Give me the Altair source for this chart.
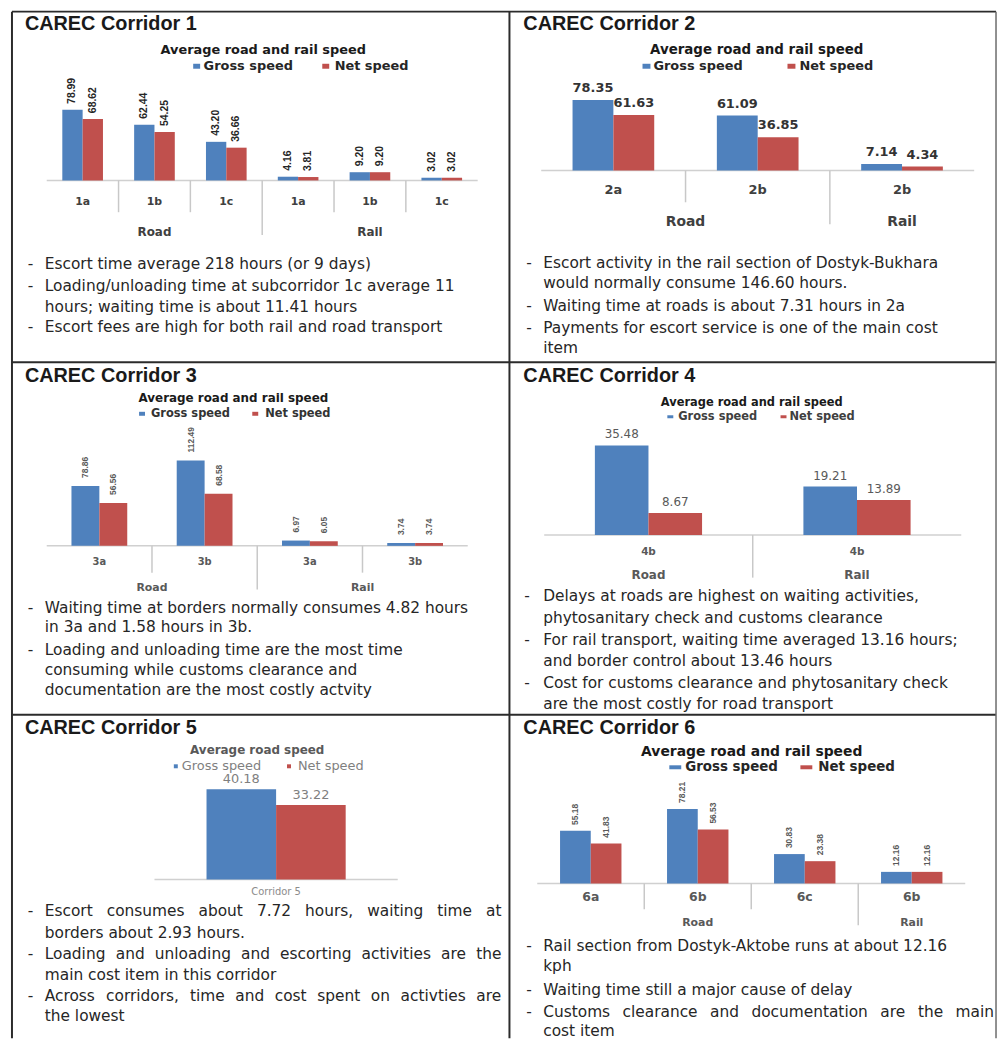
import altair as alt
import pandas as pd

# ---------------- data ----------------
panel_titles = ["CAREC Corridor 1", "CAREC Corridor 2", "CAREC Corridor 3",
                "CAREC Corridor 4", "CAREC Corridor 5", "CAREC Corridor 6"]
chart_titles = ["Average road and rail speed", "Average road and rail speed",
                "Average road and rail speed", "Average road and rail speed",
                "Average road speed", "Average road and rail speed"]
series_names = ["Gross speed", "Net speed"]

c1_sub = ["1a", "1b", "1c", "1a", "1b", "1c"]
c1_mode = ["Road", "Road", "Road", "Rail", "Rail", "Rail"]
c1_gross = [78.99, 62.44, 43.20, 4.16, 9.20, 3.02]
c1_net = [68.62, 54.25, 36.66, 3.81, 9.20, 3.02]

c2_sub = ["2a", "2b", "2b"]
c2_mode = ["Road", "Road", "Rail"]
c2_gross = [78.35, 61.09, 7.14]
c2_net = [61.63, 36.85, 4.34]

c3_sub = ["3a", "3b", "3a", "3b"]
c3_mode = ["Road", "Road", "Rail", "Rail"]
c3_gross = [78.86, 112.49, 6.97, 3.74]
c3_net = [56.56, 68.58, 6.05, 3.74]

c4_sub = ["4b", "4b"]
c4_mode = ["Road", "Rail"]
c4_gross = [35.48, 19.21]
c4_net = [8.67, 13.89]

c5_sub = ["Corridor 5"]
c5_mode = [""]
c5_gross = [40.18]
c5_net = [33.22]

c6_sub = ["6a", "6b", "6c", "6b"]
c6_mode = ["Road", "Road", "Road", "Rail"]
c6_gross = [55.18, 78.21, 30.83, 12.16]
c6_net = [41.83, 56.53, 23.38, 12.16]

c1_notes = [["Escort time average 218 hours (or 9 days)"],
            ["Loading/unloading time at subcorridor 1c average 11",
             "hours; waiting time is about 11.41 hours"],
            ["Escort fees are high for both rail and road transport"]]
c2_notes = [["Escort activity in the rail section of Dostyk-Bukhara",
             "would normally consume 146.60 hours."],
            ["Waiting time at roads is about 7.31 hours in 2a"],
            ["Payments for escort service is one of the main cost", "item"]]
c3_notes = [["Waiting time at borders normally consumes 4.82 hours",
             "in 3a and 1.58 hours in 3b."],
            ["Loading and unloading time are the most time",
             "consuming while customs clearance and",
             "documentation are the most costly actvity"]]
c4_notes = [["Delays at roads are highest on waiting activities,",
             "phytosanitary check and customs clearance"],
            ["For rail transport, waiting time averaged 13.16 hours;",
             "and border control about 13.46 hours"],
            ["Cost for customs clearance and phytosanitary check",
             "are the most costly for road transport"]]
c5_notes = [["Escort consumes about 7.72 hours, waiting time at",
             "borders about 2.93 hours."],
            ["Loading and unloading and escorting activities are the",
             "main cost item in this corridor"],
            ["Across corridors, time and cost spent on activties are",
             "the lowest"]]
c6_notes = [["Rail section from Dostyk-Aktobe runs at about 12.16", "kph"],
            ["Waiting time still a major cause of delay"],
            ["Customs clearance and documentation are the main",
             "cost item"]]

# ---------------- style / layout ----------------
FT = "Liberation Sans, Arial, sans-serif"
FC = "DejaVu Sans, Verdana, sans-serif"
BLUE, RED = "#4F81BD", "#C0504D"
OX = OY = 8
W, H = 997, 1034

_w = {" ": 318, ",": 318, ".": 318, "-": 361, "/": 337, ":": 337, ";": 337, "(": 390, ")": 390}
for ch in "0123456789":
    _w[ch] = 636
_up = dict(zip("ABCDEFGHIJKLMNOPQRSTUVWXYZ",
               [684, 686, 698, 770, 632, 575, 775, 752, 295, 295, 656, 557, 863, 748, 787, 603,
                787, 695, 635, 611, 732, 684, 989, 685, 611, 685]))
_lo = dict(zip("abcdefghijklmnopqrstuvwxyz",
               [613, 635, 550, 635, 615, 352, 635, 634, 278, 278, 579, 278, 974, 634, 612, 635,
                635, 411, 521, 392, 634, 592, 818, 592, 592, 525]))
_w.update(_up)
_w.update(_lo)


def tw(s, size):
    return sum(_w.get(ch, 620) for ch in s) / 1000.0 * size


ann = {}


def T(x, y, t, font=FC, size=12, weight="normal", color="#262626", align="left", baseline="middle"):
    ann.setdefault((font, size, weight, color, align, baseline), []).append(
        {"x": x - OX, "y": y - OY, "t": t})


rects = []


def R(x, y, w, h, color):
    rects.append({"x": x - w / 2 - OX, "x2": x + w / 2 - OX,
                  "y": y - h / 2 - OY, "y2": y + h / 2 - OY, "c": color})


NOTE_SIZE = 15.5
NOTE_COLOR = "#262626"

layouts = [
    dict(x0=47, x1=481, base=178, k=0.9, bw=0.283, title=(25, 26), ct=(265, 47, 13, "#1a1a1a"),
         leg=dict(y=63, gm=198, gt=205, nm=328, nt=337, size=13, weight="bold", mw=7, mh=5, color="#262626"),
         lab=dict(rot=True, font=FT, size=10.5, weight="bold", gap=6, color="#262626"),
         cat=dict(y=200, size=11, weight="bold", color="#404040"),
         grp=dict(y=230, size=12, weight="bold", color="#404040"),
         sep=(210, 233), notes=dict(dash=28, text=45, ys=[262, 284, 305, 326], just={})),
    dict(x0=545, x1=981, base=168, k=0.906, bw=0.283, title=(527, 27), ct=(762, 47, 13.5, "#1a1a1a"),
         leg=dict(y=63, gm=651, gt=658, nm=797, nt=805, size=13, weight="bold", mw=8, mh=5, color="#262626"),
         lab=dict(rot=False, font=FC, size=13, weight="bold", gap=5, color="#333333"),
         cat=dict(y=188, size=13, weight="bold", color="#404040"),
         grp=dict(y=220, size=14, weight="bold", color="#404040"),
         sep=(200, 222), notes=dict(dash=530, text=547, ys=[261, 281, 304, 327, 347], just={})),
    dict(x0=47, x1=471, base=546, k=0.765, bw=0.265, title=(25, 381), ct=(235, 397, 12, "#1a1a1a"),
         leg=dict(y=413, gm=143, gt=152, nm=257, nt=267, size=11.5, weight="bold", mw=6, mh=4, color="#333333"),
         lab=dict(rot=True, font=FT, size=8.5, weight="bold", gap=8, color="#595959"),
         cat=dict(y=562, size=10, weight="bold", color="#595959"),
         grp=dict(y=588, size=11, weight="bold", color="#595959"),
         sep=(573, 590), notes=dict(dash=28, text=45, ys=[609, 628, 651, 671, 691], just={})),
    dict(x0=548, x1=968, base=535, k=2.54, bw=0.257, title=(527, 381), ct=(757, 402, 11.5, "#1a1a1a"),
         leg=dict(y=416, gm=675, gt=683, nm=789, nt=795, size=11.5, weight="bold", mw=6, mh=3, color="#404040"),
         lab=dict(rot=False, font=FC, size=12, weight="normal", gap=4, color="#595959"),
         cat=dict(y=552, size=10.5, weight="bold", color="#595959"),
         grp=dict(y=575, size=12, weight="bold", color="#595959"),
         sep=(578, 578), notes=dict(dash=528, text=547, ys=[597, 619, 641, 662, 684, 705], just={})),
    dict(x0=155.5, x1=400.5, base=882, k=2.26, bw=0.286, title=(25, 735), ct=(259, 752, 12, "#595959"),
         leg=dict(y=768, gm=177, gt=183, nm=291, nt=300, size=13, weight="normal", mw=4, mh=4, color="#7f7f7f"),
         lab=dict(rot=False, font=FC, size=13, weight="normal", gap=3, color="#7f7f7f"),
         cat=dict(y=895, size=10, weight="normal", color="#8c8c8c"),
         grp=None, sep=(0, 0),
         notes=dict(dash=28, text=45, ys=[914, 936, 957, 978, 999, 1020], just={0: 505, 2: 505, 4: 505})),
    dict(x0=541, x1=972, base=886, k=0.96, bw=0.287, title=(527, 735), ct=(757, 754, 14, "#1a1a1a"),
         leg=dict(y=769, gm=680, gt=690, nm=812, nt=824, size=13.5, weight="bold", mw=12, mh=4, color="#262626"),
         lab=dict(rot=True, font=FT, size=8.5, weight="bold", gap=6, color="#595959"),
         cat=dict(y=900, size=12.5, weight="bold", color="#595959"),
         grp=dict(y=926, size=11, weight="bold", color="#595959"),
         sep=(912, 928), notes=dict(dash=530, text=547, ys=[949, 969, 993, 1015, 1035], just={3: 1001})),
]


def panel(L, subs, modes, gross, net, title, ctitle, notes):
    n = len(subs)
    df = pd.DataFrame({"idx": list(range(n)) * 2,
                       "series": [series_names[0]] * n + [series_names[1]] * n,
                       "value": list(gross) + list(net)})
    bw = L["bw"]
    xs = alt.Scale(domain=[-0.5, n - 0.5], range=[L["x0"] - OX, L["x1"] - OX], nice=False, zero=False)
    ys = alt.Scale(domain=[0, 100], range=[L["base"] - OY, L["base"] - 100 * L["k"] - OY],
                   nice=False, zero=False)

    def X(f):
        return alt.X(f, scale=xs, axis=None)

    def Y(f):
        return alt.Y(f, scale=ys, axis=None)

    g = series_names[0]
    base = alt.Chart(df).transform_calculate(
        xa=f"datum.idx + (datum.series == '{g}' ? {-bw} : 0)",
        xb=f"datum.idx + (datum.series == '{g}' ? 0 : {bw})",
        xc=f"datum.idx + (datum.series == '{g}' ? {-bw / 2} : {bw / 2})",
        zero="0",
        lab="format(datum.value, '.2f')")
    layers = []
    axis_df = pd.DataFrame({"a": [-0.5], "b": [n - 0.5], "zero": [0]})
    layers.append(alt.Chart(axis_df).mark_rule(color="#d0d0d0", strokeWidth=1.5).encode(
        x=X("a:Q"), x2="b:Q", y=Y("zero:Q")))
    layers.append(base.mark_rect().encode(
        x=X("xa:Q"), x2="xb:Q", y=Y("value:Q"), y2="zero:Q",
        color=alt.Color("series:N", scale=alt.Scale(domain=series_names, range=[BLUE, RED]), legend=None)))
    lb = L["lab"]
    if lb["rot"]:
        lab_mark = base.mark_text(angle=270, align="left", baseline="middle", dx=lb["gap"],
                                  font=lb["font"], fontSize=lb["size"], fontWeight=lb["weight"],
                                  color=lb["color"])
    else:
        lab_mark = base.mark_text(align="center", baseline="bottom", dy=-lb["gap"],
                                  font=lb["font"], fontSize=lb["size"], fontWeight=lb["weight"],
                                  color=lb["color"])
    layers.append(lab_mark.encode(x=X("xc:Q"), y=Y("value:Q"), text="lab:N"))

    # separators between sub-corridors
    seps = [{"b": i + 0.5, "long": modes[i] != modes[i + 1]} for i in range(n - 1)]
    for is_long in (False, True):
        rows = [s for s in seps if s["long"] == is_long]
        if rows:
            yb = L["sep"][1 if is_long else 0]
            layers.append(alt.Chart(pd.DataFrame(rows)).mark_rule(color="#c8c8c8", strokeWidth=1.5).encode(
                x=X("b:Q"), y=alt.value(L["base"] - OY), y2=alt.value(yb - OY)))

    c = L["cat"]
    layers.append(alt.Chart(pd.DataFrame({"idx": list(range(n)), "sub": subs})).mark_text(
        font=FC, fontSize=c["size"], fontWeight=c["weight"], color=c["color"],
        align="center", baseline="middle").encode(
        x=X("idx:Q"), y=alt.value(c["y"] - OY), text="sub:N"))

    gp = L["grp"]
    if gp is not None:
        order = []
        for m in modes:
            if m not in order:
                order.append(m)
        grows = [{"mode": m, "pos": sum(i for i in range(n) if modes[i] == m) / modes.count(m)}
                 for m in order]
        layers.append(alt.Chart(pd.DataFrame(grows)).mark_text(
            font=FC, fontSize=gp["size"], fontWeight=gp["weight"], color=gp["color"],
            align="center", baseline="middle").encode(
            x=X("pos:Q"), y=alt.value(gp["y"] - OY), text="mode:N"))

    # texts
    T(L["title"][0], L["title"][1], title, font=FT, size=20, weight="bold", color="#1a1a1a",
      baseline="alphabetic")
    cx, cy, cs, cc = L["ct"]
    T(cx, cy, ctitle, size=cs, weight="bold", color=cc, align="center")
    lg = L["leg"]
    R(lg["gm"], lg["y"], lg["mw"], lg["mh"], BLUE)
    R(lg["nm"], lg["y"], lg["mw"], lg["mh"], RED)
    T(lg["gt"], lg["y"], series_names[0], size=lg["size"], weight=lg["weight"], color=lg["color"])
    T(lg["nt"], lg["y"], series_names[1], size=lg["size"], weight=lg["weight"], color=lg["color"])

    nt = L["notes"]
    li = 0
    for bullet in notes:
        for j, line in enumerate(bullet):
            y = nt["ys"][li]
            if j == 0:
                T(nt["dash"], y, "-", size=NOTE_SIZE, color=NOTE_COLOR)
            if li in nt["just"]:
                words = line.split(" ")
                widths = [tw(wd, NOTE_SIZE) for wd in words]
                gap = (nt["just"][li] - nt["text"] - sum(widths)) / (len(words) - 1)
                xcur = nt["text"]
                for wd, wdw in zip(words, widths):
                    T(xcur, y, wd, size=NOTE_SIZE, color=NOTE_COLOR)
                    xcur += wdw + gap
            else:
                T(nt["text"], y, line, size=NOTE_SIZE, color=NOTE_COLOR)
            li += 1
    return alt.layer(*layers)


panels = [
    panel(layouts[0], c1_sub, c1_mode, c1_gross, c1_net, panel_titles[0], chart_titles[0], c1_notes),
    panel(layouts[1], c2_sub, c2_mode, c2_gross, c2_net, panel_titles[1], chart_titles[1], c2_notes),
    panel(layouts[2], c3_sub, c3_mode, c3_gross, c3_net, panel_titles[2], chart_titles[2], c3_notes),
    panel(layouts[3], c4_sub, c4_mode, c4_gross, c4_net, panel_titles[3], chart_titles[3], c4_notes),
    panel(layouts[4], c5_sub, c5_mode, c5_gross, c5_net, panel_titles[4], chart_titles[4], c5_notes),
    panel(layouts[5], c6_sub, c6_mode, c6_gross, c6_net, panel_titles[5], chart_titles[5], c6_notes),
]

extra = []
for (font, size, weight, color, align, baseline), rows in ann.items():
    extra.append(alt.Chart(pd.DataFrame(rows)).mark_text(
        font=font, fontSize=size, fontWeight=weight, color=color, align=align, baseline=baseline).encode(
        x=alt.X("x:Q", scale=None), y=alt.Y("y:Q", scale=None), text="t:N"))

extra.append(alt.Chart(pd.DataFrame(rects)).mark_rect().encode(
    x=alt.X("x:Q", scale=None), x2="x2:Q", y=alt.Y("y:Q", scale=None), y2="y2:Q",
    color=alt.Color("c:N", scale=None)))

borders = pd.DataFrame([
    {"x": 12, "y": 8, "x2": 1003, "y2": 8},
    {"x": 12, "y": 8, "x2": 12, "y2": 1042},
    {"x": 513, "y": 8, "x2": 513, "y2": 1042},
    {"x": 12, "y": 361, "x2": 1003, "y2": 361},
    {"x": 12, "y": 716, "x2": 1003, "y2": 716},
])
for col in ("x", "x2"):
    borders[col] = borders[col] - OX
for col in ("y", "y2"):
    borders[col] = borders[col] - OY
extra.append(alt.Chart(borders).mark_rule(color="#2b2b2b", strokeWidth=2).encode(
    x=alt.X("x:Q", scale=None), x2="x2:Q", y=alt.Y("y:Q", scale=None), y2="y2:Q"))
right_b = pd.DataFrame([{"x": 1003 - OX, "y": 8 - OY, "y2": 1042 - OY}])
extra.append(alt.Chart(right_b).mark_rule(color="#6b6b6b", strokeWidth=1.5).encode(
    x=alt.X("x:Q", scale=None), y=alt.Y("y:Q", scale=None), y2="y2:Q"))

chart = alt.layer(*panels, *extra).resolve_scale(x="independent", y="independent").properties(
    width=W, height=H, padding=0, background="white",
    autosize=alt.AutoSizeParams(type="none")
).configure_view(stroke="transparent")

chart.save("out.html", embed_options={"renderer": "svg", "actions": False})
